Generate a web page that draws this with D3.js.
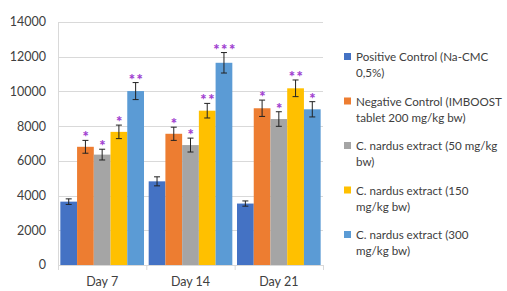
<!DOCTYPE html>
<html><head><meta charset="utf-8">
<script src="https://cdn.jsdelivr.net/npm/d3@7"></script>
<style>html,body{margin:0;padding:0;background:#fff;}svg{display:block;font-family:Lato,"Open Sans",sans-serif;}</style>
</head><body>
<svg id="c" width="507" height="291"></svg>
<script>
const categories = ["Day 7", "Day 14", "Day 21"];
const seriesNames = [
  ["Positive Control (Na-CMC", "0,5%)"],
  ["Negative Control (IMBOOST", "tablet 200 mg/kg bw)"],
  ["C. nardus extract (50 mg/kg", "bw)"],
  ["C. nardus extract (150", "mg/kg bw)"],
  ["C. nardus extract (300", "mg/kg bw)"]
];
const positiveControl = [3650, 4820, 3540];
const negativeControl = [6810, 7560, 9030];
const extract50 = [6360, 6910, 8410];
const extract150 = [7670, 8890, 10180];
const extract300 = [10020, 11650, 8970];
const errPositive = [160, 260, 150];
const errNegative = [370, 380, 470];
const err50 = [310, 400, 420];
const err150 = [390, 420, 480];
const err300 = [490, 590, 440];
const starsNegative = ["*", "*", "*"];
const stars50 = ["*", "*", "*"];
const stars150 = ["*", "**", "**"];
const stars300 = ["**", "***", "*"];
const starsPositive = ["", "", ""];
const yTicks = [0, 2000, 4000, 6000, 8000, 10000, 12000, 14000];

const values = [positiveControl, negativeControl, extract50, extract150, extract300];
const errors = [errPositive, errNegative, err50, err150, err300];
const stars = [starsPositive, starsNegative, stars50, stars150, stars300];
const colors = ["#4472C4", "#ED7D31", "#A5A5A5", "#FFC000", "#5B9BD5"];

const svg = d3.select("#c");
const pLeft = 58, pRight = 323, pTop = 22, pBottom = 265;
const y = d3.scaleLinear().domain([0, 14000]).range([pBottom, pTop]);
const x0 = d3.scaleBand().domain(categories).range([pLeft, pRight]).paddingInner(0).paddingOuter(0);
const x1 = d3.scaleBand().domain(d3.range(5)).range([0, x0.bandwidth()]).paddingOuter(0.14).paddingInner(0);

// gridlines
svg.append("g").selectAll("line").data(yTicks.filter(d => d > 0)).join("line")
  .attr("x1", pLeft).attr("x2", pRight).attr("y1", d => Math.round(y(d)) + 0.5).attr("y2", d => Math.round(y(d)) + 0.5)
  .attr("stroke", "#d9d9d9").attr("stroke-width", 1);
// y axis line
svg.append("line").attr("x1", pLeft + 0.5).attr("x2", pLeft + 0.5).attr("y1", y(14000)).attr("y2", pBottom)
  .attr("stroke", "#d9d9d9");
// y labels
svg.append("g").selectAll("text").data(yTicks).join("text")
  .attr("x", 46).attr("y", d => y(d)).attr("dy", "0.35em").attr("text-anchor", "end")
  .attr("font-size", 12.5).attr("fill", "#404040").text(d => d);

// bars
const groups = svg.append("g").selectAll("g").data(categories).join("g")
  .attr("transform", c => `translate(${x0(c)},0)`);
groups.each(function(c, ci) {
  const g = d3.select(this);
  values.forEach((arr, si) => {
    const v = arr[ci], e = errors[si][ci];
    const bx = x1(si), bw = x1.bandwidth();
    g.append("rect").attr("x", bx).attr("y", y(v)).attr("width", bw).attr("height", pBottom - y(v))
      .attr("fill", colors[si]);
    const cx = bx + bw / 2;
    g.append("line").attr("x1", cx).attr("x2", cx).attr("y1", y(v + e)).attr("y2", y(v - e))
      .attr("stroke", "#222").attr("stroke-width", 1);
    [v + e, v - e].forEach(t => g.append("line").attr("x1", cx - 3).attr("x2", cx + 3)
      .attr("y1", y(t)).attr("y2", y(t)).attr("stroke", "#222").attr("stroke-width", 1));
    const s = stars[si][ci];
    if (s) {
      g.append("text").attr("x", cx + 1).attr("y", y(v + e) + 2).attr("text-anchor", "middle")
        .attr("font-size", 15).attr("font-weight", "900").attr("fill", "#A040D0")
        .attr("letter-spacing", "1.5px")
        .text(s);
    }
  });
});

// x axis
svg.append("line").attr("x1", pLeft).attr("x2", pRight).attr("y1", pBottom + 0.5).attr("y2", pBottom + 0.5)
  .attr("stroke", "#d9d9d9");
svg.append("g").selectAll("line").data(categories.concat(["end"])).join("line")
  .attr("x1", (d, i) => pLeft + i * x0.bandwidth() + 0.5).attr("x2", (d, i) => pLeft + i * x0.bandwidth() + 0.5)
  .attr("y1", pBottom).attr("y2", pBottom + 5).attr("stroke", "#d9d9d9");
svg.append("g").selectAll("text").data(categories).join("text")
  .attr("x", c => x0(c) + x0.bandwidth() / 2).attr("y", 286)
  .attr("text-anchor", "middle").attr("font-size", 12.5).attr("fill", "#404040").text(c => c);

// legend
const leg = svg.append("g");
seriesNames.forEach((lines, i) => {
  const ly = 57 + i * 44.5;
  leg.append("rect").attr("x", 344).attr("y", ly - 4).attr("width", 7).attr("height", 7).attr("fill", colors[i]);
  lines.forEach((t, j) => leg.append("text").attr("x", 356).attr("y", ly + j * 16).attr("dy", "0.35em")
    .attr("font-size", 11.6).attr("fill", "#404040").text(t));
});
</script>
</body></html>
